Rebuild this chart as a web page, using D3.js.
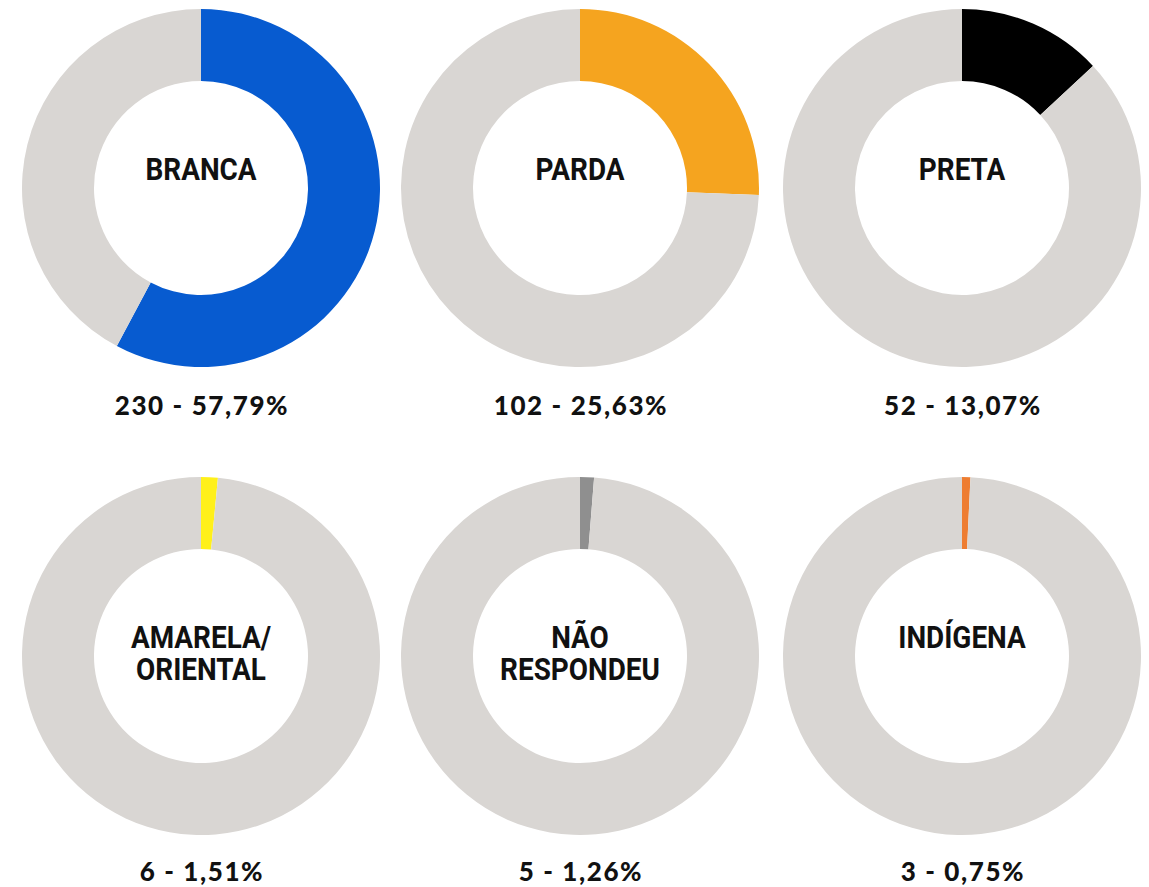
<html>
<head>
<meta charset="utf-8">
<style>
body{margin:0;background:#fff;}
svg{display:block;}
.cat{font-family:Roboto, sans-serif;font-weight:700;font-size:31px;fill:#111;}
.val{font-family:Lato, sans-serif;font-weight:900;font-size:26px;fill:#111;letter-spacing:1.6px;}
</style>
<script src="https://d3js.org/d3.v7.min.js"></script>
</head>
<body>
<svg id="chart" width="1149" height="887"></svg>
<script>
// dados
const categories = [["BRANCA"], ["PARDA"], ["PRETA"], ["AMARELA/", "ORIENTAL"], ["NÃO", "RESPONDEU"], ["INDÍGENA"]];
const counts = [230, 102, 52, 6, 5, 3];
const percents = ["57,79%", "25,63%", "13,07%", "1,51%", "1,26%", "0,75%"];
const colors = ["#075bd0", "#f5a41f", "#000000", "#fff01a", "#8f8f8f", "#ee7d31"];
const total = d3.sum(counts);

const svg = d3.select("#chart");
const outer = 179, inner = 107;
const cx = [201, 580, 962], cy = [188, 656];
const labelY = [406, 872];

const pie = d3.pie().sort(null).value(d => d);
const arc = d3.arc().outerRadius(outer).innerRadius(inner);

counts.forEach(function(c, i) {
  const col = i % 3, row = Math.floor(i / 3);
  const g = svg.append("g").attr("transform", "translate(" + cx[col] + "," + cy[row] + ")");
  g.selectAll("path").data(pie([c, total - c])).enter().append("path")
    .attr("d", arc)
    .attr("fill", (d, j) => j == 0 ? colors[i] : "#d9d6d3");

  // nome da categoria, uma ou duas linhas
  const txt = g.append("text").attr("class", "cat")
    .attr("text-anchor", "middle")
    .attr("transform", "translate(0,-8) scale(0.9,1)");
  categories[i].forEach(function(t, k) {
    txt.append("tspan").attr("x", 0).attr("y", k * 32).text(t);
  });

  svg.append("text").attr("class", "val")
    .attr("x", cx[col] + 1).attr("y", labelY[row])
    .attr("text-anchor", "middle")
    .attr("dy", "0.36em")
    .text(c + " - " + percents[i]);
});
</script>
</body>
</html>
